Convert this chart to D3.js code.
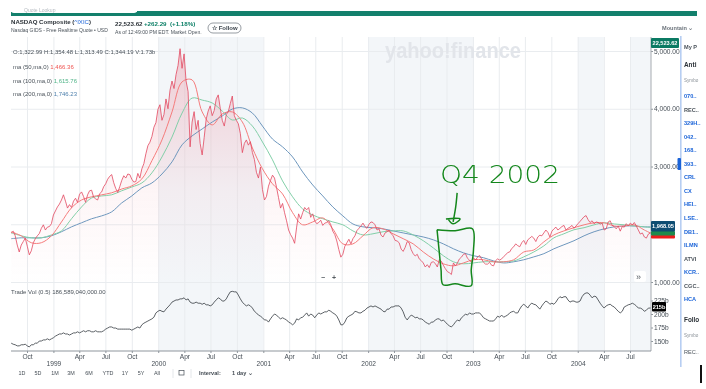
<!DOCTYPE html>
<html>
<head>
<meta charset="utf-8">
<script src="https://cdn.jsdelivr.net/npm/d3@7"></script>
<style>
html, body { margin: 0; padding: 0; background: #fff; overflow: hidden; }
svg { display: block; filter: blur(0.5px); font-family: "Liberation Sans", Arial, sans-serif; }
.axis text { font-size: 6.6px; fill: #464e56; font-family: "Liberation Sans", Arial, sans-serif; }
.axis line { stroke: #8f969d; }
.axis .domain { stroke: #8f969d; }
.grid line { stroke: #e9ecef; }
.grid .domain { display: none; }
.grid text { display: none; }
</style>
</head>
<body>
<div id="chart"></div>
<script>
// weekly closes (first point is 7 Aug 1998)
var priceValues = [1850,1880,1800,1640,1520,1640,1700,1760,1620,1470,1540,1680,1750,1800,1840,1930,1990,1900,1950,1960,
2010,2160,2230,2300,2350,2420,2510,2400,2280,2340,2290,2400,2450,2380,2520,2560,2480,2380,2510,2580,
2590,2470,2440,2420,2530,2560,2650,2700,2780,2830,2860,2720,2620,2550,2650,2760,2840,2800,2870,2860,
2780,2730,2740,2880,2800,2960,3050,3220,3360,3420,3520,3680,3760,3990,4070,3800,3900,4170,4000,4320,
4480,4350,4590,4750,5040,4700,4950,4480,4300,3340,3770,3950,3640,3800,3400,3200,3500,3820,3960,4050,
3880,3970,4170,4240,4010,3800,3700,3900,3950,4090,4220,3880,3800,3740,3570,3240,3400,3460,3370,3430,
3240,3120,2900,2800,2990,2600,2420,2480,2660,2760,2850,2800,2640,2460,2280,2360,2200,2060,1900,1820,
1760,1670,1950,2180,2090,2200,2290,2250,2290,2120,2180,2060,2010,2030,2070,1980,2020,2030,2060,1990,
1880,1820,1710,1560,1430,1480,1620,1680,1740,1660,1750,1800,1890,1930,1970,2020,1960,1930,2000,2040,
2030,1990,1900,1920,1810,1780,1850,1870,1900,1840,1800,1720,1710,1680,1570,1530,1600,1700,1680,1560,
1490,1450,1480,1400,1370,1330,1260,1300,1250,1340,1350,1320,1260,1390,1360,1290,1230,1180,1160,1130,
1330,1280,1330,1400,1430,1480,1490,1410,1380,1340,1420,1380,1430,1460,1400,1340,1310,1310,1340,1290,
1280,1370,1400,1380,1400,1440,1470,1510,1520,1580,1610,1660,1630,1610,1680,1720,1650,1730,1760,1790,
1760,1700,1780,1810,1800,1850,1900,1860,1780,1880,1920,1950,1900,1930,1960,1980,1900,1930,1950,1980,
1930,1970,2010,2050,2090,2130,2150,2080,2030,2060,2010,2040,2030,2000,2020,1900,1920,2040,2060,1980,
1960,1920,1970,1880,1960,1950,2010,1970,2020,1990,2030,1970,1900,1830,1850,1780,1760,1830,1850,1880];

// moving averages, one reading every five weeks
var ma50Values = [1868,1800,1680,1680,1800,2040,2285,2420,2475,2510,2545,2610,2665,2785,3100,3460,3945,4465,4500,3945,
3720,3910,3945,3770,3320,2960,2700,2525,2200,1990,2040,2110,1920,1660,1660,1800,1940,1920,1835,1750,
1660,1520,1400,1315,1280,1330,1385,1385,1350,1350,1385,1520,1555,1695,1815,1885,1940,1990,2025,2025,
1970,1970,1990,1900,1815];
var ma100Values = [1850,1800,1765,1765,1815,1885,2095,2300,2455,2490,2510,2580,2645,2715,2890,3165,3510,3925,4185,4150,
4100,3960,3805,3840,3700,3425,3115,2750,2475,2265,2160,2095,2040,1990,1885,1815,1835,1870,1885,1885,
1815,1715,1590,1455,1350,1315,1330,1350,1350,1350,1365,1435,1520,1625,1765,1835,1905,1940,1990,2025,
2005,1990,1970,1955,1940];
var ma200Values = [1750,1765,1765,1765,1800,1870,1955,2025,2095,2145,2215,2370,2490,2630,2715,2870,3080,3375,3530,3650,
3770,3875,3995,4015,3925,3700,3475,3340,3165,2905,2680,2490,2300,2145,2005,1955,1940,1920,1885,1850,
1815,1780,1730,1660,1575,1505,1455,1420,1365,1330,1350,1385,1435,1490,1575,1645,1715,1800,1870,1920,
1955,1970,1970,1955,1955];

// trade volume in billions, same weekly dates as the closes
var volumeValues = [146,144,143,141,141,143,143,144,141,139,143,143,146,146,150,150,152,152,154,152,
154,156,159,161,163,163,165,163,163,161,163,165,165,167,165,167,169,167,169,169,
167,167,169,167,167,167,169,172,174,176,176,174,174,172,172,172,172,172,172,172,
170,172,174,176,174,180,183,185,187,189,191,194,202,205,207,205,204,209,213,217,
222,224,226,226,228,228,230,226,228,222,220,220,222,220,220,218,220,217,217,215,
217,222,226,230,228,224,224,228,235,241,242,241,241,235,228,222,218,215,217,215,
211,205,202,198,196,193,189,189,185,191,196,200,198,194,191,193,191,189,185,183,
180,183,191,189,193,194,198,202,196,200,198,193,198,202,200,202,204,204,207,205,
202,200,196,189,180,180,185,193,196,198,200,205,204,202,202,205,207,211,213,215,
213,215,213,211,209,205,204,209,209,213,213,215,215,215,211,204,194,189,194,198,
196,193,194,191,191,189,185,183,181,185,185,189,191,191,187,189,185,181,178,176,
180,185,189,187,193,196,200,198,202,200,200,202,202,202,198,193,191,189,187,187,
187,191,196,194,198,194,196,198,202,204,205,202,202,209,215,218,215,211,217,220,
218,217,213,209,215,220,224,222,218,220,218,222,228,232,230,232,232,226,222,224,
224,222,222,224,232,237,239,239,235,230,233,232,226,220,215,211,215,217,218,215,
213,209,205,202,205,213,215,217,218,220,218,215,211,211,209,205,207,211,211,213];

var priceTicks = [1000, 2000, 3000, 4000, 5000];
var priceTickLabels = [1000, 3000, 4000, 5000];
var volumeTicks = [150, 175, 200, 225];
var monthTicks = ["1998-10-01","1999-04-01","1999-07-01","1999-10-01","2000-04-01","2000-07-01","2000-10-01","2001-04-01","2001-07-01","2001-10-01","2002-04-01","2002-07-01","2002-10-01","2003-04-01","2003-07-01","2003-10-01","2004-04-01","2004-07-01"];
var yearTicks = ["1999-01-01","2000-01-01","2001-01-01","2002-01-01","2003-01-01","2004-01-01"];
var shadedRanges = [["2000-01-01","2001-01-01"],["2002-01-01","2003-01-01"],["2004-01-01","2004-04-01"],["2004-07-01","2004-09-15"]];

// green ink on the screenshot, as [date, price]
var inkBox = [["2002-08-29",1905],["2002-10-31",1887],["2002-12-30",1922],["2003-01-03",1557],["2002-12-26",1211],["2002-12-26",934],["2002-10-31",969],["2002-09-19",952],["2002-09-12",1211],["2002-09-05",1557],["2002-08-29",1905]];
var inkShaft = [["2002-11-07",2543],["2002-11-02",2300],["2002-10-24",2041]];
var inkHead = [["2002-09-29",2093],["2002-11-17",2093],["2002-10-24",2007],["2002-10-06",2093]];

var rangeButtons = ["1D","5D","1M","3M","6M","YTD","1Y","5Y","All"];
var sideSymbols = ["070..","REC..","329H..","042..","168..","393..","CRL","CX","HEI..","LSE..","DB1..","ILMN","ATVI","KCR..","CGC..","HCA"];
var darkSymbols = ["REC..","ATVI","CGC.."];

var width = 706, height = 389;
var parseDay = d3.timeParse("%Y-%m-%d");

var svg = d3.select("#chart").append("svg")
    .attr("width", width)
    .attr("height", height);

var xScale = d3.scaleTime()
    .domain([parseDay("1998-10-01"), parseDay("2004-07-01")])
    .range([27, 630]);
var yScale = d3.scaleLinear().domain([0, 5000]).range([339.75, 51]);
var volScale = d3.scaleLinear().domain([150, 225]).range([341, 300.5]);

var startDay = parseDay("1998-08-07");
function weekly(values) {
    return values.map(function(v, i) {
        return { date: d3.timeDay.offset(startDay, i * 7), value: v };
    });
}
function fiveWeekly(values) {
    return values.map(function(v, i) {
        return { date: d3.timeDay.offset(startDay, i * 35), value: v };
    });
}

var defs = svg.append("defs");
defs.append("clipPath").attr("id", "plot").append("rect")
    .attr("x", 11).attr("y", 37).attr("width", 640).attr("height", 314);
var grad = defs.append("linearGradient").attr("id", "areaFill")
    .attr("gradientUnits", "userSpaceOnUse")
    .attr("x1", 0).attr("x2", 0).attr("y1", 51).attr("y2", 285);
grad.append("stop").attr("offset", 0).attr("stop-color", "#e23c55").attr("stop-opacity", 0.22);
grad.append("stop").attr("offset", 0.6).attr("stop-color", "#e23c55").attr("stop-opacity", 0.05);
grad.append("stop").attr("offset", 1).attr("stop-color", "#e23c55").attr("stop-opacity", 0);

// top bar
svg.append("rect").attr("x", 11).attr("y", 11).attr("width", 686).attr("height", 5).attr("fill", "#13806c");
svg.append("path").attr("d", "M11,11H137V10A3,3 0 0 1 134,13H14A3,3 0 0 1 11,10Z").attr("fill", "#fff");
svg.append("rect").attr("x", 11).attr("y", 8).attr("width", 126).attr("height", 4).attr("fill", "#fff");
svg.append("text").attr("x", 24).attr("y", 12).attr("font-size", 5).attr("fill", "#b4bac0").text("Quote Lookup");

// header
function label(x, y, txt, size, color, weight) {
    return svg.append("text").attr("x", x).attr("y", y).text(txt)
        .attr("font-size", size).attr("fill", color).attr("font-weight", weight || "normal");
}
var nameText = label(11, 24, "NASDAQ Composite (", 6.1, "#2c3238", "bold");
nameText.append("tspan").attr("fill", "#1a63d8").attr("font-weight", "normal").text("^IXIC");
nameText.append("tspan").text(")");
label(11, 32, "Nasdaq GIDS - Free Realtime Quote • USD", 5, "#4b535b");
label(115, 25.5, "22,523.62", 6.2, "#2c3238", "bold");
label(144, 25.5, "+262.29", 6.2, "#0b7f66", "bold");
label(170, 25.5, "(+1.18%)", 6.2, "#0b7f66", "bold");
label(115, 34, "As of 12:49:00 PM EDT. Market Open.", 5.1, "#4b535b");
svg.append("rect").attr("x", 208).attr("y", 23).attr("width", 33).attr("height", 10).attr("rx", 5)
    .attr("fill", "#fff").attr("stroke", "#6b737b").attr("stroke-width", 0.7);
label(212, 30.4, "☆ Follow", 6, "#3d454d", "bold");
label(662, 30, "Mountain  ⌄", 5.6, "#6b737b", "bold");

// shaded years
svg.append("g").selectAll("rect")
    .data(shadedRanges)
    .enter()
    .append("rect")
    .attr("x", function(d) { return xScale(parseDay(d[0])); })
    .attr("y", 37)
    .attr("width", function(d) { return Math.min(xScale(parseDay(d[1])), 651) - xScale(parseDay(d[0])); })
    .attr("height", 314)
    .attr("fill", "#f3f6f9");

// grid
svg.append("g").attr("class", "grid")
    .attr("transform", "translate(651,0)")
    .call(d3.axisLeft(yScale).tickValues(priceTicks).tickSize(640));
svg.append("g").attr("class", "grid")
    .attr("transform", "translate(0,351)")
    .call(d3.axisBottom(xScale).tickValues(monthTicks.concat(yearTicks).map(parseDay)).tickSize(-314));

// watermark
svg.append("text").attr("x", 385).attr("y", 58).text("yahoo!finance")
    .attr("font-size", 22).attr("font-weight", "bold").attr("fill", "#e2e5ea")
    .attr("textLength", 136).attr("lengthAdjust", "spacingAndGlyphs");

var plot = svg.append("g").attr("clip-path", "url(#plot)");

var priceArea = d3.area()
    .x(function(d) { return xScale(d.date); })
    .y0(285)
    .y1(function(d) { return yScale(d.value); });
var priceLine = d3.line()
    .x(function(d) { return xScale(d.date); })
    .y(function(d) { return yScale(d.value); });
var smoothLine = d3.line()
    .curve(d3.curveCatmullRom)
    .x(function(d) { return xScale(d.date); })
    .y(function(d) { return yScale(d.value); });
var volLine = d3.line()
    .x(function(d) { return xScale(d.date); })
    .y(function(d) { return volScale(d.value); });

plot.append("path").datum(weekly(priceValues)).attr("d", priceArea).attr("fill", "url(#areaFill)");
plot.append("path").datum(fiveWeekly(ma200Values)).attr("d", smoothLine).attr("fill", "none").attr("stroke", "#6e97bd").attr("stroke-width", 1);
plot.append("path").datum(fiveWeekly(ma100Values)).attr("d", smoothLine).attr("fill", "none").attr("stroke", "#82cfa8").attr("stroke-width", 1);
plot.append("path").datum(fiveWeekly(ma50Values)).attr("d", smoothLine).attr("fill", "none").attr("stroke", "#f57c7c").attr("stroke-width", 1);
plot.append("path").datum(weekly(priceValues)).attr("d", priceLine).attr("fill", "none").attr("stroke", "#e2475f").attr("stroke-width", 0.8);
plot.append("path").datum(weekly(volumeValues)).attr("d", volLine).attr("fill", "none").attr("stroke", "#4a4f55").attr("stroke-width", 0.9);

// axes
var priceAxis = svg.append("g").attr("class", "axis")
    .attr("transform", "translate(651,0)")
    .call(d3.axisRight(yScale).tickValues(priceTickLabels).tickSize(2).tickPadding(1).tickFormat(d3.format(",.2f")));
priceAxis.select(".domain").remove();
var volAxis = svg.append("g").attr("class", "axis")
    .attr("transform", "translate(651,0)")
    .call(d3.axisRight(volScale).tickValues(volumeTicks).tickSize(2).tickPadding(1).tickFormat(function(d) { return d + "b"; }));
volAxis.select(".domain").remove();
svg.append("line").attr("x1", 651).attr("x2", 651).attr("y1", 37).attr("y2", 351)
    .attr("stroke", "#a6abb0").attr("stroke-width", 1);

var monthAxis = svg.append("g").attr("class", "axis")
    .attr("transform", "translate(0,351)")
    .call(d3.axisBottom(xScale).tickValues(monthTicks.map(parseDay)).tickSize(2).tickPadding(1).tickFormat(d3.timeFormat("%b")).tickSizeOuter(0));
monthAxis.select(".domain").attr("d", "M11,0H651");
var yearAxis = svg.append("g").attr("class", "axis")
    .attr("transform", "translate(0,351)")
    .call(d3.axisBottom(xScale).tickValues(yearTicks.map(parseDay)).tickSize(2).tickPadding(8).tickFormat(d3.timeFormat("%Y")));
yearAxis.select(".domain").remove();

// legend texts
label(13, 54, "O:1,322.99  H:1,354.48  L:1,313.49  C:1,344.19  V:1.73b", 5.95, "#4b535b");
var legend = svg.append("g");
[["ma (50,ma,0)", "1,466.36", "#ef5350"], ["ma (100,ma,0)", "1,615.76", "#4fb487"], ["ma (200,ma,0)", "1,746.23", "#4f81ad"]].forEach(function(d, i) {
    var t = legend.append("text").attr("x", 13).attr("y", 69 + i * 13.5).attr("font-size", 6).attr("fill", "#4b535b").text(d[0] + "  ");
    t.append("tspan").attr("fill", d[2]).text(d[1]);
});
label(11, 293.5, "Trade Vol (0.5)  186,589,040,000.00", 6, "#4b535b");

// price tags
function tag(x, y, w, h, fill, txt, size) {
    svg.append("rect").attr("x", x).attr("y", y).attr("width", w).attr("height", h).attr("rx", 1).attr("fill", fill);
    if (txt) {
        svg.append("text").attr("x", x + w / 2).attr("y", y + h / 2 + 2).attr("text-anchor", "middle")
            .attr("font-size", size).attr("font-weight", "bold").attr("fill", "#fff").text(txt);
    }
}
tag(651, 38, 28, 10, "#0b7a63", "22,523.62", 5.6);
tag(651, 235, 24, 3.5, "#ee1c1c");
tag(651, 231, 24, 4.5, "#1f8a4c");
tag(651, 221, 24, 10.5, "#0f4d72", "1,968.05", 5.6);
tag(652, 302, 14, 9.5, "#000", "215b", 5.6);

// zoom buttons
svg.append("rect").attr("x", 319).attr("y", 272).attr("width", 21).attr("height", 10).attr("fill", "#fff");
label(321, 279.5, "−", 7, "#555b61", "bold");
label(332, 279.5, "+", 7, "#555b61", "bold");
svg.append("rect").attr("x", 634).attr("y", 271).attr("width", 12).attr("height", 11).attr("rx", 2).attr("fill", "#fff");
label(636, 279.5, "»", 9, "#555b61");

// range selector
svg.append("g").selectAll("text")
    .data(rangeButtons)
    .enter()
    .append("text")
    .attr("x", function(d, i) { return [22, 38, 55, 71, 89, 108, 125, 141, 157][i]; })
    .attr("y", 375)
    .attr("text-anchor", "middle")
    .attr("font-size", 5.4)
    .attr("fill", "#464e56")
    .text(function(d) { return d; });
svg.append("line").attr("x1", 173).attr("x2", 173).attr("y1", 369).attr("y2", 378).attr("stroke", "#e4e7ea");
svg.append("line").attr("x1", 191).attr("x2", 191).attr("y1", 369).attr("y2", 378).attr("stroke", "#e4e7ea");
svg.append("rect").attr("x", 179).attr("y", 370.5).attr("width", 5).attr("height", 4.5).attr("fill", "none").attr("stroke", "#464e56").attr("stroke-width", 0.7);
label(199, 375, "Interval:", 5.6, "#464e56", "bold");
label(232, 375, "1 day  ⌄", 5.6, "#464e56", "bold");

// side panel
svg.append("rect").attr("x", 680).attr("y", 36).attr("width", 1.6).attr("height", 331).attr("fill", "#b7cef2");
svg.append("rect").attr("x", 677.5).attr("y", 158).attr("width", 3.5).attr("height", 12).attr("rx", 1).attr("fill", "#1a63d8");
label(684, 49, "My P", 5.6, "#4b535b", "bold");
label(684, 67, "Anti", 6.4, "#2c3238", "bold");
label(684, 82, "Symbo", 4.6, "#8b9299");
svg.append("g").selectAll("text")
    .data(sideSymbols)
    .enter()
    .append("text")
    .attr("x", 684)
    .attr("y", function(d, i) { return 98 + i * 13.55; })
    .attr("font-size", 5.6)
    .attr("font-weight", "bold")
    .attr("fill", function(d) { return darkSymbols.indexOf(d) >= 0 ? "#4b535b" : "#1a63d8"; })
    .text(function(d) { return d; });
label(684, 322, "Follo", 6.4, "#2c3238", "bold");
label(684, 337, "Symbo", 4.6, "#8b9299");
label(684, 354, "REC..", 5.6, "#4b535b");
svg.append("rect").attr("x", 700).attr("y", 365).attr("width", 2).attr("height", 18).attr("fill", "#111");

// green annotation
var inkLine = d3.line()
    .curve(d3.curveCatmullRom)
    .x(function(d) { return xScale(parseDay(d[0])); })
    .y(function(d) { return yScale(d[1]); });
[inkBox, inkShaft, inkHead].forEach(function(pts) {
    svg.append("path").datum(pts).attr("d", inkLine)
        .attr("fill", "none").attr("stroke", "#14871c").attr("stroke-width", 1.5);
});
svg.append("text").attr("x", 440).attr("y", 183).text("Q4 2002")
    .attr("font-family", "DejaVu Sans").attr("font-weight", 200).attr("font-size", 25)
    .attr("fill", "#14871c")
    .attr("textLength", 120).attr("lengthAdjust", "spacingAndGlyphs");
</script>
</body>
</html>
